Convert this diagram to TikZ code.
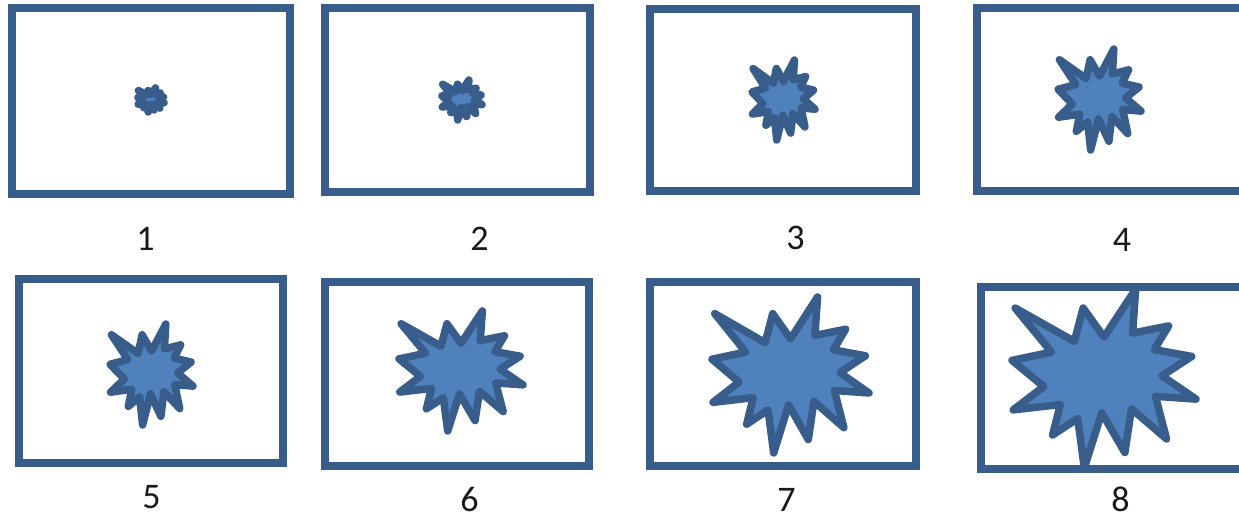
\documentclass[tikz,border=0pt]{standalone}
\usepackage{fontspec}
\setmainfont{Carlito}
\definecolor{frameblue}{HTML}{385D8A}
\definecolor{boomfill}{HTML}{4F81BD}
\tikzset{
  frame/.style={draw=frameblue,line width=0.17cm,line join=miter},
  boom/.style={draw=frameblue,fill=boomfill,line width=0.15cm,line join=round},
  num/.style={inner sep=0pt,font=\fontsize{20.5}{24}\selectfont,text=black!90}
}
% explosion in a box: corner x, corner y, width, height
\newcommand\explosion[4]{%
  \begin{scope}[shift={(#1,#2)},xscale=#3,yscale=#4]
    \draw[boom] (0.5,0.2685) -- (0.6723,0) -- (0.6553,0.2465) -- (0.8509,0.2063)
      -- (0.7732,0.3387) -- (0.9767,0.3767) -- (0.8151,0.4850) -- (1,0.6153)
      -- (0.7795,0.5992) -- (0.8400,0.8377) -- (0.6491,0.6693) -- (0.6133,0.9137)
      -- (0.4876,0.6914) -- (0.3928,1) -- (0.3572,0.7235) -- (0.2205,0.8156)
      -- (0.2624,0.6452) -- (0.0063,0.6753) -- (0.1723,0.5451) -- (0,0.3988)
      -- (0.2142,0.3526) -- (0.0171,0.1063) -- (0.3385,0.2926) -- (0.3867,0.1063)
      -- cycle;
  \end{scope}}
\begin{document}
\begin{tikzpicture}[x=0.02cm,y=-0.02cm]
  \useasboundingbox (0,0) rectangle (1239,518);
  % top row
  \draw[frame] (12,8) rectangle (290,194);
  \draw[frame] (325,8) rectangle (590,192);
  \draw[frame] (650,9) rectangle (916,191);
  \draw[frame] (977,8) rectangle (1243,191);
  \explosion{138}{88}{26}{24}
  \explosion{442}{80}{40}{40}
  \explosion{752}{60}{63}{80}
  \explosion{1058}{49}{83}{101}
  \node[num] (lbl1) at (145.5,238.5) {1};
  \node[num] (lbl2) at (479.5,238.5) {2};
  \node[num] (lbl3) at (795.5,238) {3};
  \node[num] (lbl4) at (1122,240) {4};
  % bottom row
  \draw[frame] (19,279) rectangle (283,463);
  \draw[frame] (325,282) rectangle (589,466);
  \draw[frame] (650,282) rectangle (916,466);
  \draw[frame] (981,287) rectangle (1247,469);
  \explosion{110}{324}{83}{101}
  \explosion{399}{311}{124}{120}
  \explosion{712}{297}{157}{156}
  \explosion{1012}{289}{184}{179}
  \node[num] (lbl5) at (151.5,497.5) {5};
  \node[num] (lbl6) at (469.5,499) {6};
  \node[num] (lbl7) at (786.5,499.5) {7};
  \node[num] (lbl8) at (1120.5,499) {8};
\end{tikzpicture}
\end{document}
